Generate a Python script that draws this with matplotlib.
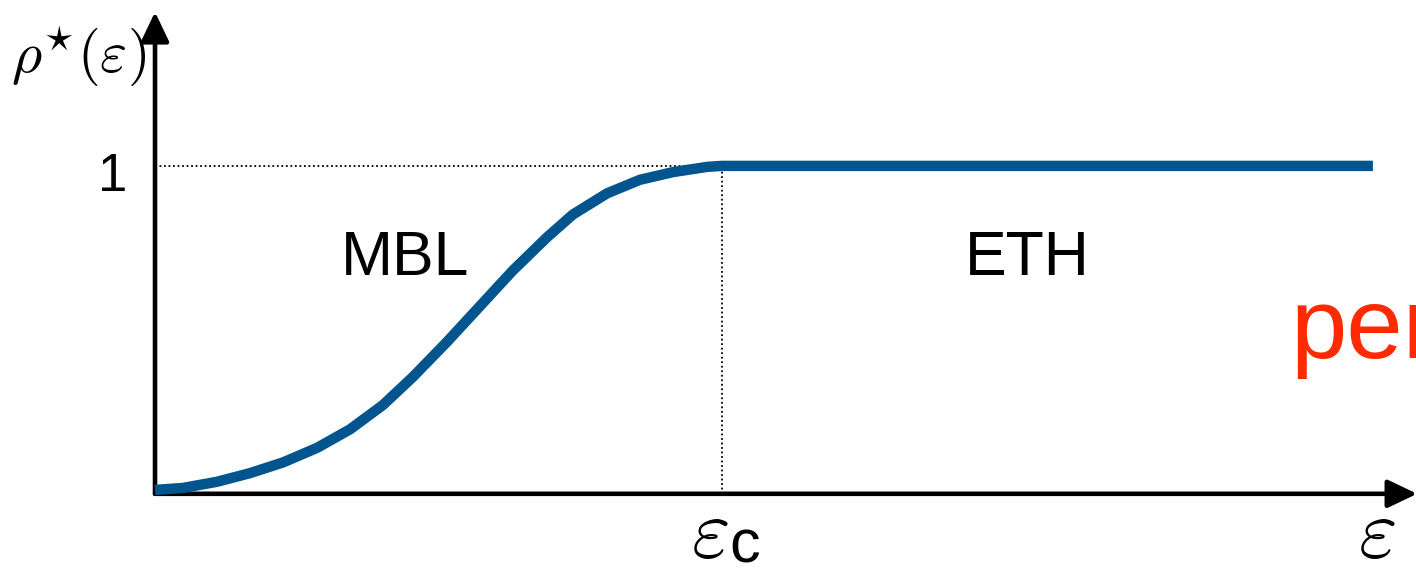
import numpy as np
import matplotlib.pyplot as plt

plt.rcParams['mathtext.fontset'] = 'cm'

# sigmoid (eps in units of eps_c, rho* in units of 1)
eps = [0.0, 0.049, 0.109, 0.168, 0.226, 0.286, 0.344, 0.402, 0.455, 0.515, 0.573,
       0.631, 0.691, 0.737, 0.797, 0.855, 0.914, 0.974, 1.0, 2.148]
rho = [0.0, 0.006, 0.025, 0.052, 0.085, 0.130, 0.187, 0.262, 0.349, 0.457, 0.567,
       0.677, 0.779, 0.850, 0.915, 0.957, 0.981, 0.997, 1.0, 1.0]
eps_c = 1.0
rho_max = 1.0
phases = ['MBL', 'ETH']
phase_x = [0.441, 1.538]

blue = '#00558f'
red = '#ff2a00'

fig = plt.figure(figsize=(14.16, 5.68), dpi=100)
ax = fig.add_axes([0, 0, 1, 1])
ax.set_xlim(-0.2734, 2.224)
ax.set_ylim(-0.241, 1.512)
ax.axis('off')

# axes with arrows
arr = dict(arrowstyle='-|>,head_length=0.9,head_width=0.43', lw=3.3, color='black',
           mutation_scale=20, shrinkA=0, shrinkB=0)
y0 = -0.012
ax.annotate('', xy=(2.226, y0), xytext=(0, y0), arrowprops=arr, annotation_clip=False)
ax.annotate('', xy=(0, 1.475), xytext=(0, y0), arrowprops=arr, annotation_clip=False)

# dotted guides
ax.plot([0, eps_c], [rho_max, rho_max], color='black', lw=1.3, ls=(0, (1, 1.5)))
ax.plot([eps_c, eps_c], [y0, rho_max], color='black', lw=1.3, ls=(0, (1, 1.5)))

ax.plot(eps, rho, color=blue, lw=7.5, solid_capstyle='butt', solid_joinstyle='round', zorder=5)

for name, x in zip(phases, phase_x):
    ax.text(x, 0.714, name, fontsize=45, family='Liberation Sans', ha='center', va='center')

ax.text(-0.048, 0.965, '1', fontsize=38, family='Liberation Sans', ha='right', va='center')
ax.text(-0.135, 1.34, r'$\rho^{\star}(\varepsilon)$', fontsize=42, ha='center', va='center')
ax.text(0.979, -0.135, r'$\varepsilon$', fontsize=60, ha='center', va='center')
ax.text(1.04, -0.175, 'c', fontsize=44, family='Liberation Sans', ha='center', va='center')
ax.text(2.155, -0.135, r'$\varepsilon$', fontsize=60, ha='center', va='center')
ax.text(2.002, 0.406, 'per', fontsize=73, family='Liberation Sans', color=red,
        ha='left', va='baseline')

fig.savefig('out.png', dpi=100)
